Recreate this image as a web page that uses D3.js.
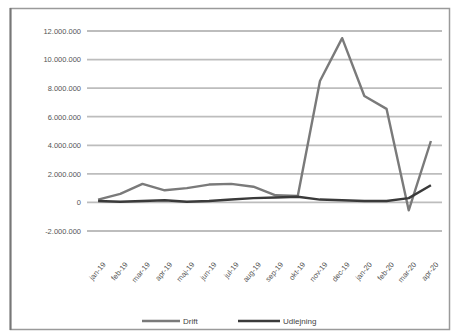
<!DOCTYPE html>
<html>
<head>
<meta charset="utf-8">
<script src="https://cdn.jsdelivr.net/npm/d3@7"></script>
<style>
  html, body { margin: 0; padding: 0; background: #fff; }
  svg { display: block; font-family: "Liberation Sans", Arial, sans-serif; }
</style>
</head>
<body>
<svg id="chart" width="452" height="333"></svg>
<script>
// Monthly categories along the x axis
const months = ["jan-19","feb-19","mar-19","apr-19","maj-19","jun-19","jul-19","aug-19",
                "sep-19","okt-19","nov-19","dec-19","jan-20","feb-20","mar-20","apr-20"];

// Series values (kr)
const driftValues = [200000, 600000, 1300000, 850000, 1000000, 1250000, 1300000, 1100000,
                     500000, 450000, 8500000, 11500000, 7450000, 6550000, -550000, 4300000];
const udlejningValues = [100000, 50000, 100000, 150000, 50000, 100000, 200000, 300000,
                         350000, 400000, 200000, 150000, 100000, 100000, 300000, 1200000];

// Value axis ticks and their labels
const yTicks = [12000000, 10000000, 8000000, 6000000, 4000000, 2000000, 0, -2000000];
const yTickLabels = ["12.000.000", "10.000.000", "8.000.000", "6.000.000",
                     "4.000.000", "2.000.000", "0", "-2.000.000"];

const seriesNames = ["Drift", "Udlejning"];
const seriesColors = ["#7a7a7a", "#3a3a3a"];

const svg = d3.select("#chart");

// outer frame
svg.append("rect")
  .attr("x", 10.5).attr("y", 8.5).attr("width", 439).attr("height", 321)
  .attr("fill", "#fff").attr("stroke", "#9a9a9a").attr("stroke-width", 1.5);
svg.append("line")
  .attr("x1", 10.5).attr("x2", 10.5).attr("y1", 8).attr("y2", 330)
  .attr("stroke", "#777").attr("stroke-width", 2);

const plot = { left: 87, right: 442, top: 31, bottom: 231 };

const x = d3.scaleBand().domain(months).range([plot.left, plot.right]);
const y = d3.scaleLinear().domain([-2000000, 12000000]).range([plot.bottom, plot.top]);

// horizontal gridlines
svg.append("g").selectAll("line").data(yTicks).join("line")
  .attr("x1", plot.left).attr("x2", plot.right)
  .attr("y1", d => y(d)).attr("y2", d => y(d))
  .attr("stroke", "#bdbdbd").attr("stroke-width", 1.8);

// value axis labels
const yAxis = d3.axisLeft(y).tickValues(yTicks)
  .tickFormat((d, i) => yTickLabels[i]).tickSize(0).tickPadding(6);
const gy = svg.append("g").attr("transform", `translate(${plot.left},0)`).call(yAxis);
gy.select(".domain").remove();
gy.selectAll("text").attr("fill", "#555").attr("font-size", 7.5);

// category axis labels, rotated
const xAxis = d3.axisBottom(x).tickSize(0).tickPadding(0);
const gx = svg.append("g").attr("transform", `translate(0,${plot.bottom + 8})`).call(xAxis);
gx.select(".domain").remove();
gx.selectAll("text")
  .attr("fill", "#555").attr("font-size", 7.5)
  .attr("text-anchor", "end")
  .attr("dy", "0.35em")
  .attr("transform", "translate(6,24) rotate(-50)");

// series lines
const line = d3.line()
  .x((d, i) => x(months[i]) + x.bandwidth() / 2)
  .y(d => y(d));

[driftValues, udlejningValues].forEach((vals, k) => {
  svg.append("path").datum(vals)
    .attr("d", line)
    .attr("fill", "none")
    .attr("stroke", seriesColors[k])
    .attr("stroke-width", 2.4)
    .attr("stroke-linejoin", "round");
});

// legend
const legendItems = [
  { x: 142, w: 38 },
  { x: 238, w: 42 }
];
const legend = svg.append("g");
seriesNames.forEach((name, k) => {
  const it = legendItems[k];
  legend.append("line")
    .attr("x1", it.x).attr("x2", it.x + it.w)
    .attr("y1", 321).attr("y2", 321)
    .attr("stroke", seriesColors[k]).attr("stroke-width", 2.4);
  legend.append("text")
    .attr("x", it.x + it.w + 3).attr("y", 324)
    .attr("fill", "#444").attr("font-size", 8)
    .text(name);
});
</script>
</body>
</html>
